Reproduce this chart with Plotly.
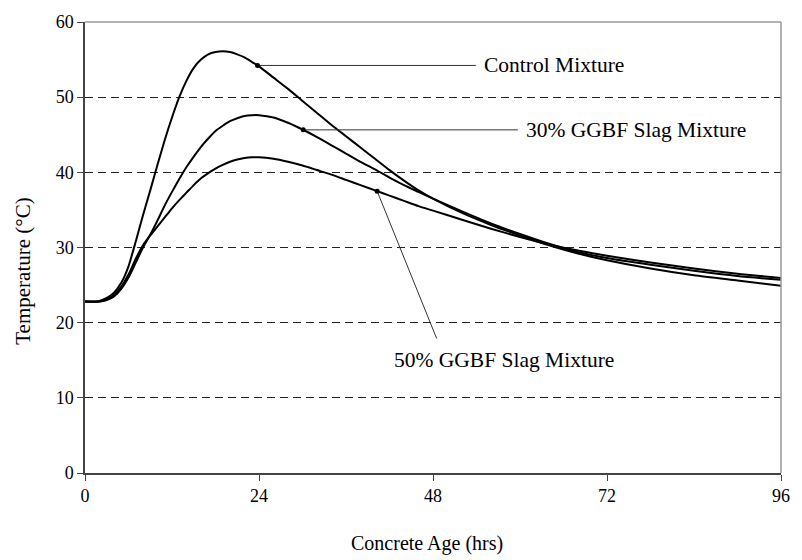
import numpy as np
import plotly.graph_objects as go

FONT = "Liberation Serif"

hours = [0, 2, 3, 4, 5, 6, 7, 8, 9, 10, 11, 12, 13, 14, 15, 16, 17, 18, 19, 20,
         21, 22, 23, 24, 26, 28, 30, 32, 34, 36, 38, 40, 42, 44, 46, 48,
         52, 56, 60, 64, 68, 72, 78, 84, 90, 96]

control = [22.8, 22.9, 23.3, 24.0, 25.3, 27.5, 30.8, 34.3, 37.6, 41.0,
           44.3, 47.3, 50.0, 52.2, 53.9, 55.0, 55.7, 56.0, 56.1, 56.0,
           55.7, 55.3, 54.7, 54.1, 52.6, 51.1, 49.5, 47.9, 46.3, 44.8, 43.3, 41.8, 40.3, 38.9, 37.6, 36.5,
           34.6, 33.0, 31.6, 30.3, 29.2, 28.3, 27.2, 26.3, 25.6, 24.9]

slag30 = [22.8, 22.8, 23.0, 23.5, 24.5, 26.0, 28.0, 30.0, 31.7, 33.6,
          35.6, 37.4, 39.1, 40.7, 42.1, 43.4, 44.5, 45.5, 46.2, 46.8,
          47.2, 47.5, 47.6, 47.6, 47.3, 46.6, 45.7, 44.7, 43.6, 42.5, 41.4, 40.4, 39.3, 38.3, 37.4, 36.5,
          34.8, 33.2, 31.8, 30.5, 29.4, 28.6, 27.7, 26.9, 26.2, 25.7]

slag50 = [22.8, 22.8, 23.1, 23.7, 24.8, 26.4, 28.5, 30.3, 31.6, 32.8,
          34.0, 35.2, 36.3, 37.3, 38.3, 39.2, 39.9, 40.5, 41.0, 41.4,
          41.7, 41.9, 42.0, 42.0, 41.8, 41.4, 40.9, 40.3, 39.7, 39.0, 38.3, 37.6, 36.9, 36.2, 35.5, 34.9,
          33.7, 32.5, 31.4, 30.4, 29.6, 28.9, 28.0, 27.2, 26.5, 25.95]

series_names = ["Control Mixture", "30% GGBF Slag Mixture", "50% GGBF Slag Mixture"]
series_values = [control, slag30, slag50]

# label callouts: point on curve (hour), label anchor, leader end
marker_hours = [23.8, 30.1, 40.3]
label_x = [54.8, 60.5, 42.3]
label_y = [None, None, 15.1]        # None -> same height as the marker
leader_end_x = [53.9, 59.7, 48.5]
leader_end_y = [None, None, 17.9]

x_ticks = [0, 24, 48, 72, 96]
y_ticks = [0, 10, 20, 30, 40, 50, 60]

fig = go.Figure()

for name, vals in zip(series_names, series_values):
    fig.add_trace(go.Scatter(
        x=hours, y=vals, mode="lines", name=name,
        line=dict(color="black", width=2, shape="spline", smoothing=0.6),
        showlegend=False, hoverinfo="skip"))

for i, (name, vals) in enumerate(zip(series_names, series_values)):
    mx = marker_hours[i]
    my = float(np.interp(mx, hours, vals))
    ey = my if leader_end_y[i] is None else leader_end_y[i]
    ly = my if label_y[i] is None else label_y[i]
    fig.add_trace(go.Scatter(
        x=[mx, leader_end_x[i]], y=[my, ey], mode="lines",
        line=dict(color="#333333", width=1), showlegend=False, hoverinfo="skip"))
    fig.add_trace(go.Scatter(
        x=[mx], y=[my], mode="markers",
        marker=dict(color="black", size=5), showlegend=False, hoverinfo="skip"))
    fig.add_annotation(x=label_x[i], y=ly, xref="x", yref="y", text=name,
                       showarrow=False, xanchor="left", yanchor="middle",
                       font=dict(family=FONT, size=21.5, color="black"))

fig.add_annotation(x=0.491, y=-0.157, xref="paper", yref="paper",
                   text="Concrete Age (hrs)", showarrow=False,
                   xanchor="center", yanchor="middle",
                   font=dict(family=FONT, size=20, color="black"))
fig.add_annotation(x=-0.0896, y=0.4476, xref="paper", yref="paper",
                   text="Temperature (°C)", showarrow=False, textangle=-90,
                   xanchor="center", yanchor="middle",
                   font=dict(family=FONT, size=21, color="black"))

# top / right frame
fig.add_shape(type="line", xref="paper", yref="paper", x0=0, x1=1, y0=1, y1=1,
              line=dict(color="#999999", width=1.5), layer="above")
fig.add_shape(type="line", xref="paper", yref="paper", x0=1, x1=1, y0=0, y1=1,
              line=dict(color="#999999", width=1.5), layer="above")

fig.update_xaxes(range=[0, 96], tickvals=x_ticks, ticks="outside", ticklen=6,
                 tickcolor="#444444", showline=True, linecolor="#444444", linewidth=1.5,
                 showgrid=False, zeroline=False,
                 tickfont=dict(family=FONT, size=18, color="black"))
fig.update_yaxes(range=[0, 60], tickvals=y_ticks, ticks="outside", ticklen=6,
                 tickcolor="#444444", showline=True, linecolor="#444444", linewidth=1.5,
                 showgrid=True, gridcolor="#222222", gridwidth=1, griddash="8px,5px",
                 zeroline=False,
                 tickfont=dict(family=FONT, size=18, color="black"))

fig.update_layout(width=802, height=560,
                  margin=dict(l=85, r=14, t=15, b=87),
                  plot_bgcolor="white", paper_bgcolor="white")

fig.write_html("out.html")
